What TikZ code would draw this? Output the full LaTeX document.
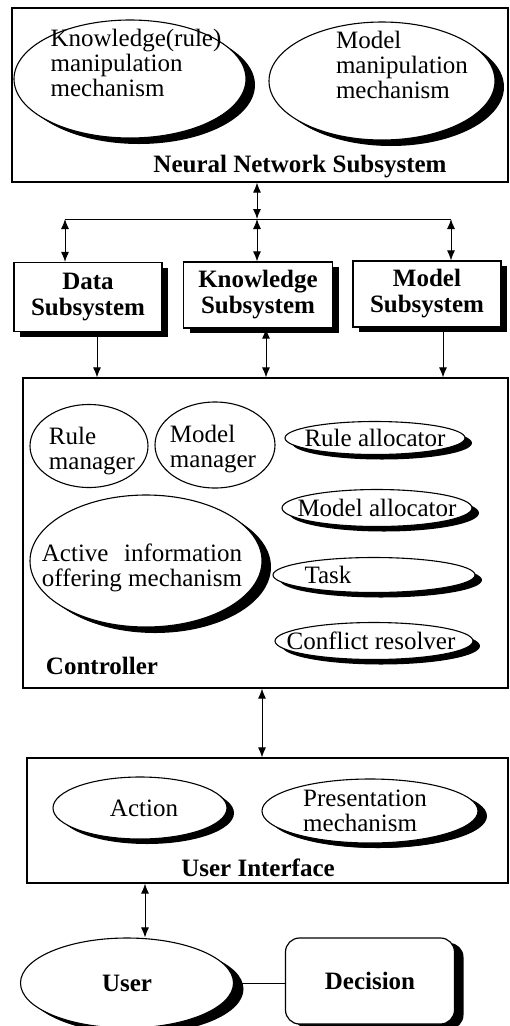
\documentclass[tikz,border=0pt]{standalone}
\usepackage{fontspec}
\usepackage{calc}
\setmainfont{Liberation Serif}
\usetikzlibrary{arrows.meta,shapes.geometric,shadows,positioning}

\begin{document}
\begin{tikzpicture}[x=1pt, y=-1pt,
  every node/.style={font=\fontsize{25}{25}\selectfont},
  every label/.style={align=left, inner sep=0pt},
  >={Latex[length=10pt,width=8pt]}]

\tikzset{
  dark shadow/.style 2 args={drop shadow={shadow xshift=#1, shadow yshift=#2,
      fill=black, opacity=1}},
  dark shadow/.default={7pt}{-5pt},
  frame/.style={draw, line width=1.2pt},
  oval/.style={ellipse, draw, fill=white, line width=1.1pt, inner sep=0pt, dark shadow},
  plain oval/.style={ellipse, draw, line width=1.1pt, inner sep=0pt},
  subbox/.style={rectangle, draw, fill=white, line width=1.2pt, align=center,
      font=\fontsize{25}{26}\selectfont\bfseries, dark shadow={6pt}{-5pt}},
  title/.style={font=\fontsize{25}{26}\selectfont\bfseries},
  link/.style={line width=1pt}
}

\useasboundingbox (0,0) rectangle (510,1026);

% neural network subsystem
\node[frame, minimum width=496pt, minimum height=174pt] (nn) at (260,95) {};
\node[oval, dark shadow={9pt}{-6pt}, minimum width=232pt, minimum height=118pt,
  label={[xshift=6pt, yshift=16pt]center:{Knowledge(rule)\\manipulation\\mechanism}}]
  (kr) at (130,79) {};
\node[oval, dark shadow={9pt}{-6pt}, minimum width=226pt, minimum height=118pt,
  label={[xshift=20pt, yshift=16pt]center:{Model\\manipulation\\mechanism}}]
  (mm) at (382,81) {};
\node[title] (nntitle) at (300,167) {Neural Network Subsystem};

% subsystems
\node[subbox, minimum width=148pt, minimum height=69pt] (ds) at (88,297) {Data\\Subsystem};
\node[subbox, minimum width=149pt, minimum height=66pt] (ks) at (258,295) {Knowledge\\Subsystem};
\node[subbox, minimum width=148pt, minimum height=66pt] (ms) at (427,294) {Model\\Subsystem};

\coordinate (bus) at (257,219);
\coordinate (busl) at (65,219);
\coordinate (busr) at (451,219);
\draw [link] (busl) -- (busr);
\draw [link, <->] (bus |- nn.south) -- (bus);
\draw [link, <->] (busl) -- (busl |- ds.north);
\draw [link, <->] (bus) -- (bus |- ks.north);
\draw [link, <->] (busr) -- (busr |- ms.north);

% controller
\node[frame, minimum width=485pt, minimum height=310pt] (ctrl) at (265.5,533) {};
\node[plain oval, minimum width=118pt, minimum height=83pt,
  label={[xshift=3pt, yshift=-5pt]center:{Rule\\manager}}] (rm) at (89,446) {};
\node[plain oval, minimum width=120pt, minimum height=86pt,
  label={[xshift=-2pt, yshift=-4pt]center:{Model\\manager}}] (mg) at (215,445) {};
\node[oval, dark shadow={9pt}{-6pt}, minimum width=232pt, minimum height=132pt,
  label={[xshift=-4pt, yshift=-7pt]center:{\makebox[\widthof{offering mechanism}]{Active\hfill information}\\offering mechanism}}]
  (aio) at (146,561) {};
\node[oval, minimum width=180pt, minimum height=33pt,
  label={center:{Rule allocator}}] (ra) at (375,438) {};
\node[oval, minimum width=190pt, minimum height=37pt,
  label={center:{Model allocator}}] (ma) at (377,508) {};
\node[oval, minimum width=202pt, minimum height=35pt,
  label={[xshift=-46pt]center:{Task}}] (task) at (374,575) {};
\node[oval, minimum width=198pt, minimum height=37pt,
  label={[xshift=-3pt]center:{Conflict resolver}}] (cr) at (374,641) {};
\node[title] (ctitle) at (102,666) {Controller};

\coordinate (d1) at ([xshift=9pt]ds.south);
\coordinate (k1) at ([xshift=8pt]ks.south);
\coordinate (m1) at ([xshift=16pt]ms.south);
\draw [link, ->] (d1) -- (d1 |- ctrl.north);
\draw [link, <->] (k1) -- (k1 |- ctrl.north);
\draw [link, ->] (m1) -- (m1 |- ctrl.north);

% user interface
\node[frame, minimum width=481pt, minimum height=125pt] (ui) at (267.5,820.5) {};
\node[oval, minimum width=174pt, minimum height=62pt,
  label={[xshift=4pt]center:{Action}}] (act) at (140,808) {};
\node[oval, dark shadow={9pt}{-5pt}, minimum width=216pt, minimum height=64pt,
  label={[xshift=-5pt]center:{Presentation\\mechanism}}] (pm) at (370,811) {};
\node[title] (uititle) at (258,868) {User Interface};

\coordinate (c1) at ([xshift=-3.5pt]ctrl.south);
\draw [link, <->] (c1) -- (c1 |- ui.north);

% user and decision
\node[oval, dark shadow={10pt}{-6pt}, minimum width=213pt, minimum height=90pt,
  label={[title]center:{User}}] (user) at (127,983) {};
\node[rectangle, draw, fill=white, line width=1.2pt, rounded corners=14pt,
  dark shadow={9pt}{-5pt}, minimum width=169pt, minimum height=86pt, title]
  (dec) at (370,981) {Decision};

\coordinate (u1) at ([xshift=-122.5pt]ui.south);
\draw [link, <->] (u1) -- (u1 |- user.north);
\draw [link] (user.east) -- (user.east -| dec.west);

\end{tikzpicture}
\end{document}
